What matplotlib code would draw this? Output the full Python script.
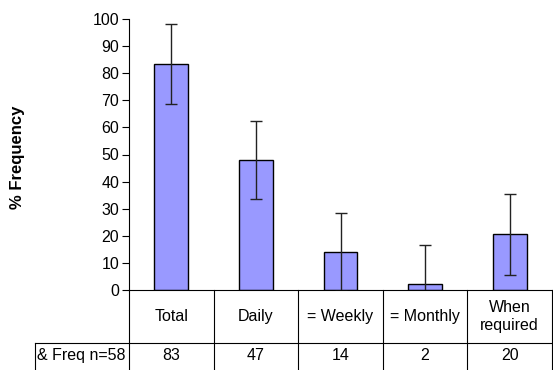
import matplotlib.pyplot as plt
import numpy as np

plt.rcParams['font.family'] = ['Liberation Sans', 'DejaVu Sans']

categories = ['Total', 'Daily', '= Weekly', '= Monthly', 'When\nrequired']
freq = [83.5, 48, 14, 2.2, 20.5]
err = [14.8, 14.5, 14.5, 14.4, 14.8]
table_vals = ['83', '47', '14', '2', '20']
row_label = '& Freq n=58'

fig = plt.figure(figsize=(5.53, 3.70), dpi=100)
W, H = 553, 370
ax = fig.add_axes([129 / W, 1 - 290 / H, 423 / W, 271 / H])

x = np.arange(len(categories))
ax.bar(x, freq, width=0.4, color='#9999FF', edgecolor='black', linewidth=1, zorder=2)
ax.errorbar(x, freq, yerr=err, fmt='none', ecolor='#222222', elinewidth=1,
            capsize=4.5, capthick=1, zorder=3)

ax.set_xlim(-0.5, len(categories) - 0.5)
ax.set_ylim(0, 100)
ax.set_yticks(range(0, 101, 10))
ax.tick_params(axis='y', direction='out', length=5, labelsize=11.5, pad=2)
ax.set_xticks([])
for s in ['top', 'right']:
    ax.spines[s].set_visible(False)

ax.set_ylabel('% Frequency', fontsize=12, fontweight='bold')
ax.yaxis.set_label_coords(-0.246, 0.49)

# table under the plot (axes y coords below zero)
r1 = -53 / 271
r2 = -81 / 271
lab_left = (35 - 129) / 423
tr = ax.get_xaxis_transform()
lkw = dict(color='black', lw=0.8, clip_on=False)
ax.plot([lab_left, 1], [r1, r1], transform=ax.transAxes, **lkw)
ax.plot([lab_left, lab_left], [r1, r2], transform=ax.transAxes, **lkw)
for b in np.arange(len(categories) + 1) - 0.5:
    ax.plot([b, b], [0, r2], transform=tr, **lkw)
for xi, cat, val in zip(x, categories, table_vals):
    ax.text(xi, r1 / 2, cat, transform=tr, ha='center', va='center', fontsize=11.5,
            linespacing=1.2)
    ax.text(xi, (r1 + r2) / 2 + 0.005, val, transform=tr, ha='center', va='center',
            fontsize=11.5)
ax.text(lab_left + 0.004, (r1 + r2) / 2 + 0.005, row_label, transform=ax.transAxes,
        ha='left', va='center', fontsize=11.5)

fig.savefig('out.png', dpi=100)
